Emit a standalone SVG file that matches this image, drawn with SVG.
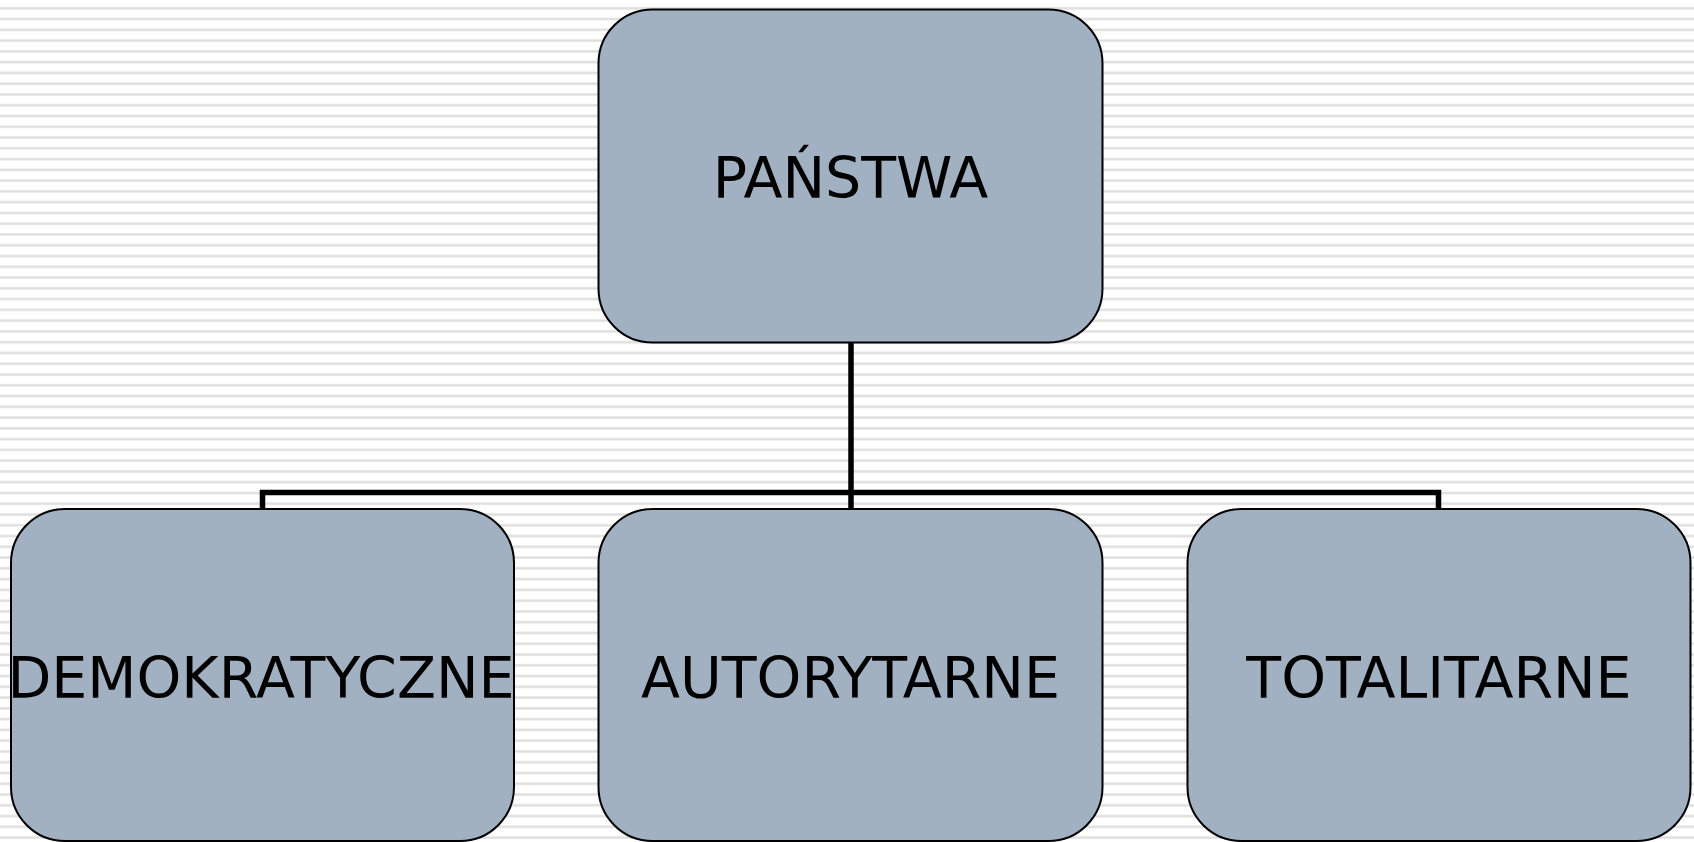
<svg xmlns="http://www.w3.org/2000/svg" width="1694" height="842" viewBox="0 0 1694 842">
<style>
.node rect{fill:#a2b1c1;stroke:#000;stroke-width:2}
.node text{font-family:"DejaVu Sans",Verdana,sans-serif;font-size:57px;fill:#000;text-anchor:middle}
.conn{fill:none;stroke:#000;stroke-width:5.5}
</style>
<defs>
<pattern id="stripes" x="0" y="0" width="20" height="10.77" patternUnits="userSpaceOnUse">
<rect x="0" y="6.8" width="20" height="3" fill="#ececec"/>
<rect x="0" y="7.5" width="20" height="1.6" fill="#dedede"/>
</pattern>
</defs>
<rect width="1694" height="842" fill="#ffffff"/>
<rect width="1694" height="842" fill="url(#stripes)"/>
<g id="connectors">
<line class="conn" x1="851" y1="342" x2="851" y2="509"/>
<polyline class="conn" points="262.5,509 262.5,492.5 1438.5,492.5 1438.5,509"/>
</g>
<g id="node-panstwa" class="node">
<rect x="598.5" y="9.5" width="504" height="333" rx="54" ry="54"/>
<text x="850.5" y="198">PAŃSTWA</text>
</g>
<g id="node-demokratyczne" class="node">
<rect x="11" y="509" width="503" height="332" rx="54" ry="54"/>
<text x="261" y="698">DEMOKRATYCZNE</text>
</g>
<g id="node-autorytarne" class="node">
<rect x="598.5" y="509" width="504" height="332" rx="54" ry="54"/>
<text x="850.5" y="698">AUTORYTARNE</text>
</g>
<g id="node-totalitarne" class="node">
<rect x="1187.5" y="509" width="503" height="332" rx="54" ry="54"/>
<text x="1439" y="698">TOTALITARNE</text>
</g>
</svg>
